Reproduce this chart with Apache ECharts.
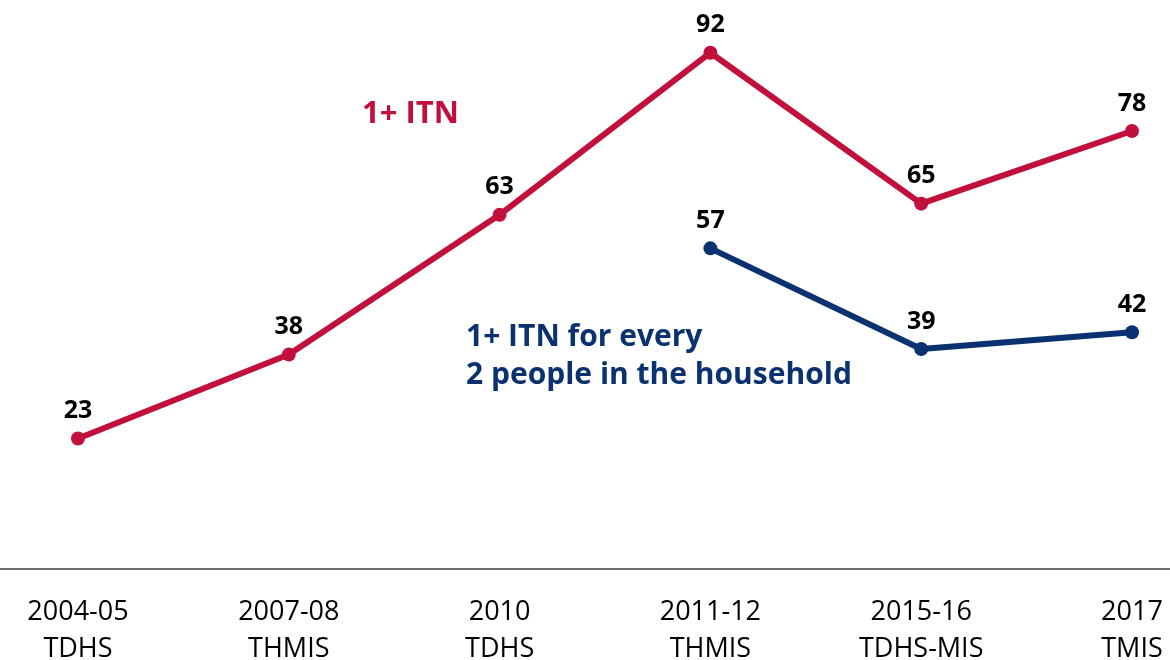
<!DOCTYPE html>
<html>
<head>
<meta charset="utf-8">
<script src="https://cdn.jsdelivr.net/npm/echarts@6/dist/echarts.min.js"></script>
<style>
  html, body { margin: 0; padding: 0; background: #ffffff; }
  #chart { width: 1170px; height: 660px; }
</style>
</head>
<body>
<div id="chart"></div>
<script>
// Survey rounds along the x axis
const surveys = ['2004-05\nTDHS', '2007-08\nTHMIS', '2010\nTDHS', '2011-12\nTHMIS', '2015-16\nTDHS-MIS', '2017\nTMIS'];
// Percent of households with at least one ITN
const anyItn = [23, 38, 63, 92, 65, 78];
// Percent of households with one ITN per two people (measured from 2011-12)
const itnPerTwo = [null, null, null, 57, 39, 42];

const RED = '#C1103B';
const NAVY = '#0B3270';

const chart = echarts.init(document.getElementById('chart'), null, { renderer: 'canvas' });

const labelStyle = {
  show: true,
  position: 'top',
  distance: 8,
  color: '#000000',
  fontFamily: 'Open Sans',
  fontWeight: 'bold',
  fontSize: 25
};

chart.setOption({
  animation: false,
  backgroundColor: '#ffffff',
  grid: [
    // plotting area for the two series
    { left: 78, right: 38, top: 8, bottom: 93, outerBoundsMode: 'none', containLabel: false },
    // full-width baseline under the chart
    { left: 0, right: 0, top: 8, bottom: 91, outerBoundsMode: 'none', containLabel: false }
  ],
  xAxis: [
    {
      type: 'category',
      gridIndex: 0,
      data: surveys,
      boundaryGap: false,
      axisLine: { show: false },
      axisTick: { show: false },
      splitLine: { show: false },
      axisLabel: {
        color: '#000000',
        fontFamily: 'Open Sans',
        fontSize: 27,
        lineHeight: 37,
        margin: 27,
        interval: 0
      }
    },
    {
      type: 'category',
      gridIndex: 1,
      data: [''],
      axisLine: { show: true, lineStyle: { color: '#404040', width: 1.5 } },
      axisTick: { show: false },
      axisLabel: { show: false },
      splitLine: { show: false }
    }
  ],
  yAxis: [
    { type: 'value', gridIndex: 0, min: 0, max: 100, show: false, splitLine: { show: false } },
    { type: 'value', gridIndex: 1, min: 0, max: 100, show: false, splitLine: { show: false } }
  ],
  series: [
    {
      name: '1+ ITN',
      type: 'line',
      xAxisIndex: 0,
      yAxisIndex: 0,
      data: anyItn,
      color: RED,
      lineStyle: { color: RED, width: 6 },
      itemStyle: { color: RED },
      symbol: 'circle',
      symbolSize: 14,
      label: labelStyle
    },
    {
      name: '1+ ITN for every 2 people in the household',
      type: 'line',
      xAxisIndex: 0,
      yAxisIndex: 0,
      data: itnPerTwo,
      color: NAVY,
      lineStyle: { color: NAVY, width: 6 },
      itemStyle: { color: NAVY },
      symbol: 'circle',
      symbolSize: 14,
      label: labelStyle
    }
  ],
  graphic: [
    {
      type: 'text',
      left: 362,
      top: 99,
      style: {
        text: '1+ ITN',
        fill: RED,
        font: 'bold 31px "Open Sans"'
      }
    },
    {
      type: 'text',
      left: 466,
      top: 318,
      style: {
        text: '1+ ITN for every\n2 people in the household',
        fill: NAVY,
        font: 'bold 30px "Open Sans"',
        lineHeight: 38
      }
    }
  ]
});
</script>
</body>
</html>
